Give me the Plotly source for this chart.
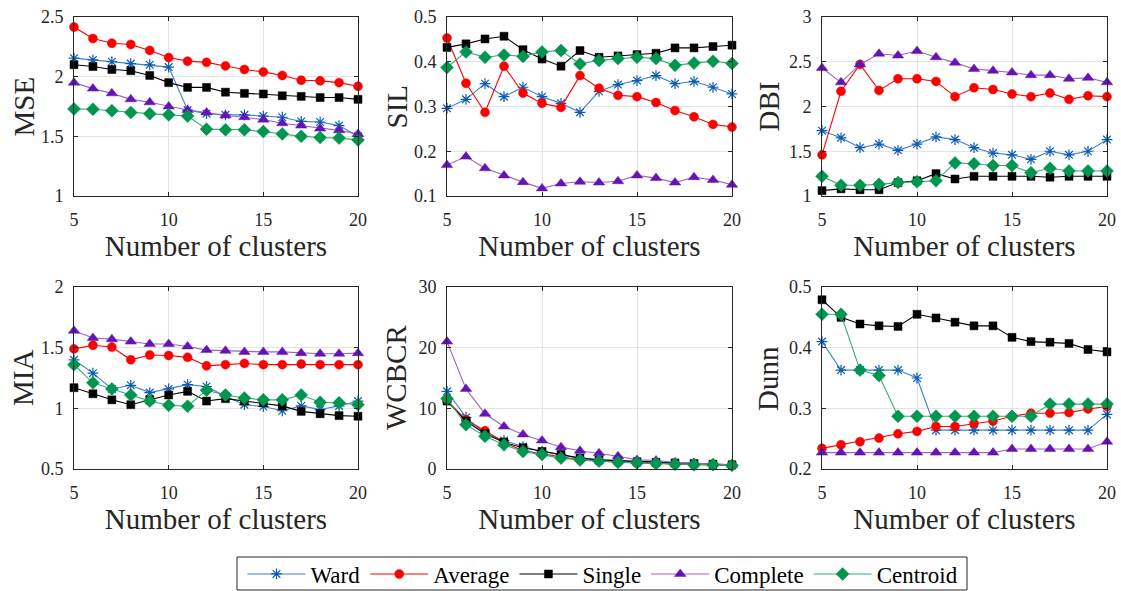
import plotly.graph_objects as go

clusters = list(range(5, 21))
x_ticks = [5, 10, 15, 20]
methods = ["Ward", "Average", "Single", "Complete", "Centroid"]

# MSE
mse_ward = [2.155, 2.14, 2.125, 2.11, 2.10, 2.08, 1.72, 1.69, 1.68, 1.68, 1.67, 1.66, 1.625, 1.62, 1.59, 1.50]
mse_average = [2.416, 2.32, 2.28, 2.27, 2.22, 2.16, 2.13, 2.12, 2.09, 2.06, 2.04, 2.01, 1.97, 1.965, 1.95, 1.92]
mse_single = [2.10, 2.085, 2.06, 2.05, 2.01, 1.95, 1.91, 1.91, 1.87, 1.86, 1.855, 1.84, 1.835, 1.825, 1.825, 1.81]
mse_complete = [1.95, 1.90, 1.86, 1.81, 1.785, 1.75, 1.72, 1.70, 1.675, 1.66, 1.64, 1.61, 1.59, 1.565, 1.55, 1.52]
mse_centroid = [1.73, 1.727, 1.715, 1.70, 1.69, 1.68, 1.67, 1.56, 1.555, 1.555, 1.54, 1.52, 1.50, 1.49, 1.485, 1.47]

# SIL
sil_ward = [0.296, 0.316, 0.351, 0.322, 0.343, 0.322, 0.307, 0.287, 0.334, 0.349, 0.358, 0.369, 0.351, 0.356, 0.343, 0.328]
sil_average = [0.453, 0.352, 0.287, 0.390, 0.330, 0.307, 0.298, 0.369, 0.341, 0.325, 0.322, 0.309, 0.291, 0.277, 0.260, 0.254]
sil_single = [0.432, 0.440, 0.451, 0.457, 0.427, 0.406, 0.390, 0.425, 0.410, 0.413, 0.416, 0.419, 0.431, 0.431, 0.434, 0.437]
sil_complete = [0.169, 0.188, 0.162, 0.146, 0.131, 0.117, 0.128, 0.132, 0.130, 0.133, 0.146, 0.140, 0.130, 0.142, 0.136, 0.125]
sil_centroid = [0.387, 0.422, 0.410, 0.415, 0.412, 0.422, 0.425, 0.395, 0.403, 0.407, 0.410, 0.407, 0.392, 0.397, 0.401, 0.396]

# DBI
dbi_ward = [1.73, 1.65, 1.54, 1.58, 1.51, 1.58, 1.66, 1.63, 1.54, 1.48, 1.46, 1.41, 1.50, 1.46, 1.50, 1.63]
dbi_average = [1.46, 2.17, 2.47, 2.18, 2.31, 2.31, 2.28, 2.11, 2.21, 2.19, 2.14, 2.11, 2.15, 2.08, 2.12, 2.11]
dbi_single = [1.06, 1.08, 1.07, 1.07, 1.15, 1.17, 1.25, 1.19, 1.22, 1.22, 1.22, 1.22, 1.21, 1.22, 1.22, 1.22]
dbi_complete = [2.43, 2.27, 2.47, 2.59, 2.57, 2.62, 2.55, 2.49, 2.42, 2.40, 2.38, 2.35, 2.35, 2.31, 2.32, 2.27]
dbi_centroid = [1.22, 1.12, 1.12, 1.13, 1.15, 1.16, 1.17, 1.37, 1.36, 1.34, 1.34, 1.26, 1.31, 1.28, 1.28, 1.28]

# MIA
mia_ward = [1.40, 1.29, 1.16, 1.19, 1.13, 1.16, 1.195, 1.18, 1.10, 1.03, 1.015, 0.98, 1.02, 0.99, 1.02, 1.06]
mia_average = [1.49, 1.52, 1.505, 1.40, 1.44, 1.435, 1.42, 1.35, 1.36, 1.37, 1.36, 1.36, 1.365, 1.36, 1.36, 1.36]
mia_single = [1.17, 1.12, 1.07, 1.03, 1.07, 1.11, 1.14, 1.06, 1.08, 1.06, 1.045, 1.02, 0.975, 0.955, 0.94, 0.935]
mia_complete = [1.64, 1.58, 1.57, 1.55, 1.53, 1.53, 1.51, 1.48, 1.475, 1.465, 1.465, 1.465, 1.455, 1.45, 1.45, 1.455]
mia_centroid = [1.36, 1.21, 1.16, 1.11, 1.06, 1.025, 1.017, 1.15, 1.11, 1.085, 1.07, 1.07, 1.11, 1.05, 1.045, 1.03]

# WCBCR
wcbcr_ward = [12.8, 8.5, 5.9, 4.7, 3.7, 2.9, 2.4, 1.8, 1.5, 1.3, 1.1, 1.0, 0.9, 0.8, 0.7, 0.6]
wcbcr_average = [11.3, 8.1, 6.3, 4.4, 3.0, 2.5, 1.9, 1.5, 1.3, 1.1, 1.0, 0.9, 0.8, 0.7, 0.7, 0.6]
wcbcr_single = [11.2, 7.9, 5.8, 4.4, 3.5, 2.9, 2.4, 1.8, 1.5, 1.4, 1.2, 1.1, 1.0, 0.9, 0.8, 0.7]
wcbcr_complete = [21.0, 13.2, 9.1, 7.0, 5.7, 4.7, 3.6, 3.0, 2.6, 2.1, 1.5, 1.4, 1.1, 1.0, 0.9, 0.7]
wcbcr_centroid = [11.6, 7.3, 5.4, 4.0, 2.9, 2.4, 1.8, 1.5, 1.3, 1.1, 1.0, 0.9, 0.8, 0.7, 0.7, 0.6]

# Dunn
dunn_ward = [0.410, 0.363, 0.363, 0.363, 0.363, 0.350, 0.264, 0.264, 0.264, 0.264, 0.264, 0.264, 0.264, 0.264, 0.264, 0.290]
dunn_average = [0.234, 0.240, 0.245, 0.251, 0.258, 0.262, 0.270, 0.270, 0.275, 0.279, 0.287, 0.292, 0.292, 0.293, 0.299, 0.303]
dunn_single = [0.479, 0.450, 0.439, 0.436, 0.435, 0.455, 0.449, 0.442, 0.436, 0.436, 0.417, 0.410, 0.409, 0.407, 0.397, 0.393]
dunn_complete = [0.227, 0.227, 0.227, 0.227, 0.227, 0.227, 0.227, 0.227, 0.227, 0.227, 0.233, 0.233, 0.233, 0.233, 0.233, 0.245]
dunn_centroid = [0.455, 0.455, 0.363, 0.354, 0.287, 0.287, 0.287, 0.287, 0.287, 0.287, 0.287, 0.287, 0.307, 0.307, 0.307, 0.307]

panels = [
    ("MSE", [mse_ward, mse_average, mse_single, mse_complete, mse_centroid], [1, 2.5], [1, 1.5, 2, 2.5], ["1", "1.5", "2", "2.5"]),
    ("SIL", [sil_ward, sil_average, sil_single, sil_complete, sil_centroid], [0.1, 0.5], [0.1, 0.2, 0.3, 0.4, 0.5], ["0.1", "0.2", "0.3", "0.4", "0.5"]),
    ("DBI", [dbi_ward, dbi_average, dbi_single, dbi_complete, dbi_centroid], [1, 3], [1, 1.5, 2, 2.5, 3], ["1", "1.5", "2", "2.5", "3"]),
    ("MIA", [mia_ward, mia_average, mia_single, mia_complete, mia_centroid], [0.5, 2], [0.5, 1, 1.5, 2], ["0.5", "1", "1.5", "2"]),
    ("WCBCR", [wcbcr_ward, wcbcr_average, wcbcr_single, wcbcr_complete, wcbcr_centroid], [0, 30], [0, 10, 20, 30], ["0", "10", "20", "30"]),
    ("Dunn", [dunn_ward, dunn_average, dunn_single, dunn_complete, dunn_centroid], [0.2, 0.5], [0.2, 0.3, 0.4, 0.5], ["0.2", "0.3", "0.4", "0.5"]),
]

line_colors = ["#3f80cc", "#ff0000", "#000000", "#a062c8", "#2fb072"]
marker_colors = ["#0b5cb0", "#ff0000", "#000000", "#6414b4", "#009650"]
symbols = ["asterisk-open", "circle", "square", "triangle-up", "diamond"]
sizes = [9, 9, 8, 10, 10]

W, H = 1121, 591
col_px = [(74, 358), (447, 732), (822, 1107)]
row_px = [(17, 196), (287, 469)]
ytitle_x = [23, 396, 768]


def fx(p):
    return p / W


def fy(p):
    return 1 - p / H


FONT = "Liberation Serif"
TXT = "#262626"

fig = go.Figure()
layout = {}
annotations = []
for i, (name, series, yr, yt, ytl) in enumerate(panels):
    r, c = divmod(i, 3)
    ax = "" if i == 0 else str(i + 1)
    xa, ya = "x" + ax, "y" + ax
    for j, m in enumerate(methods):
        mk = dict(symbol=symbols[j], size=sizes[j], color=marker_colors[j],
                  line=dict(color=marker_colors[j], width=1.2 if j == 0 else 0.5))
        fig.add_trace(go.Scatter(
            x=clusters, y=series[j], mode="lines+markers", name=m,
            line=dict(color=line_colors[j], width=1.1), marker=mk,
            legendgroup=m, showlegend=(i == 0), cliponaxis=False,
            xaxis=xa, yaxis=ya))
    x0, x1 = col_px[c]
    y0, y1 = row_px[r]
    common = dict(showline=True, linecolor=TXT, linewidth=1, mirror="ticks",
                  ticks="inside", ticklen=4, tickcolor=TXT, tickwidth=1,
                  showgrid=True, gridcolor="#e3e3e3", gridwidth=1, zeroline=False,
                  ticklabeloverflow="allow",
                  tickfont=dict(family=FONT, size=18, color=TXT))
    layout["xaxis" + ax] = dict(common, domain=[fx(x0), fx(x1)], range=[5, 20],
                                tickvals=x_ticks, ticktext=[str(v) for v in x_ticks],
                                anchor=ya, ticklabelstandoff=7,
                                title=dict(text="Number of clusters", standoff=4,
                                           font=dict(family=FONT, size=29, color=TXT)))
    layout["yaxis" + ax] = dict(common, domain=[fy(y1), fy(y0)], range=yr,
                                tickvals=yt, ticktext=ytl, anchor=xa, ticklabelstandoff=6)
    annotations.append(dict(text=name, xref="paper", yref="paper",
                            x=fx(ytitle_x[c]), y=fy((y0 + y1) / 2),
                            xanchor="center", yanchor="middle", textangle=-90,
                            showarrow=False,
                            font=dict(family=FONT, size=29, color=TXT)))

fig.update_layout(**layout)
fig.add_shape(type="rect", xref="paper", yref="paper",
              x0=fx(237), x1=fx(967), y0=fy(590), y1=fy(557),
              line=dict(color="#262626", width=1), fillcolor="rgba(0,0,0,0)")
fig.update_layout(
    annotations=annotations,
    width=W, height=H, margin=dict(l=0, r=0, t=0, b=0, autoexpand=False),
    paper_bgcolor="white", plot_bgcolor="white",
    font=dict(family=FONT, color="#000000"),
    legend=dict(orientation="h", x=fx(603), xanchor="center", y=fy(574), yanchor="middle",
                borderwidth=0, bgcolor="rgba(0,0,0,0)",
                font=dict(family=FONT, size=23, color="#000000"),
                itemwidth=58, tracegroupgap=0),
)
fig.write_html(
    "out.html",
    config={"displayModeBar": False},
    post_script="document.body.style.margin='0';document.documentElement.style.overflow='hidden';",
)
